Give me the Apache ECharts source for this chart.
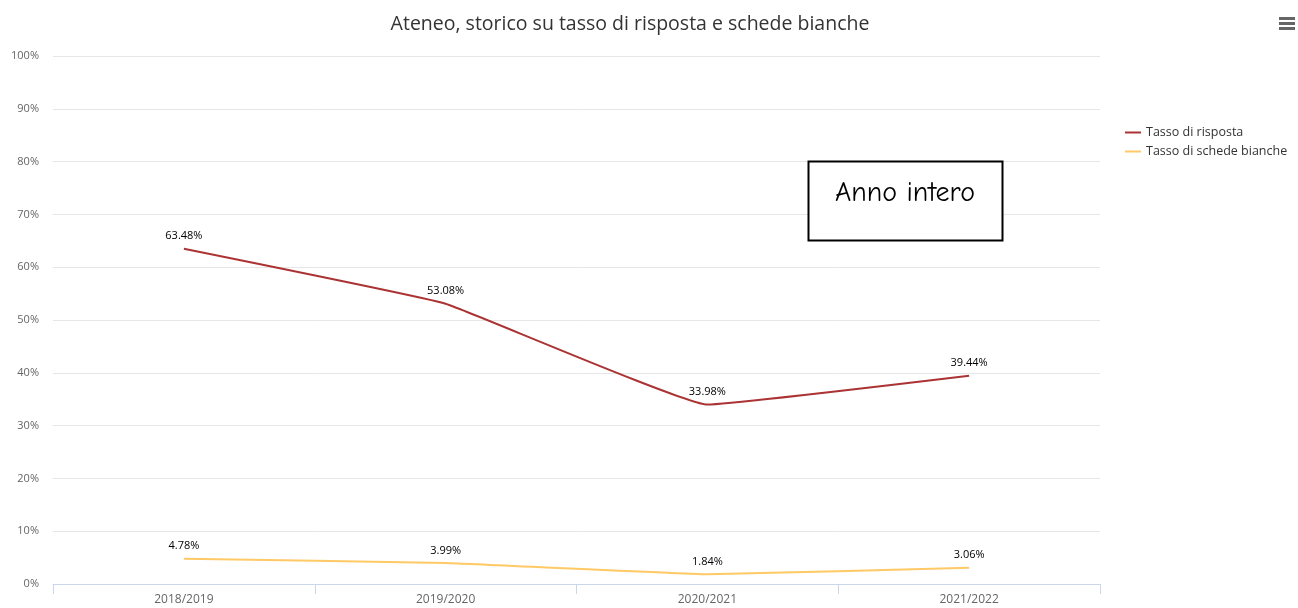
<!DOCTYPE html>
<html>
<head>
<meta charset="utf-8">
<script src="https://cdn.jsdelivr.net/npm/echarts@6/dist/echarts.min.js"></script>
<style>
  html, body { margin: 0; padding: 0; background: #fff; }
  #chart { width: 1298px; height: 608px; }
</style>
</head>
<body>
<div id="chart"></div>
<script>
const categories = ['2018/2019', '2019/2020', '2020/2021', '2021/2022'];
const tassoRisposta = [63.48, 53.08, 33.98, 39.44];
const tassoSchedeBianche = [4.78, 3.99, 1.84, 3.06];

const font = '"Open Sans", "DejaVu Sans", sans-serif';

const chart = echarts.init(document.getElementById('chart'));

const labelStyle = {
  show: true,
  position: 'top',
  distance: 7,
  fontSize: 11,
  fontFamily: font,
  color: '#000',
  textBorderColor: '#fff',
  textBorderWidth: 2,
  formatter: p => p.value.toFixed(2) + '%'
};

chart.setOption({
  animation: false,
  textStyle: { fontFamily: font },
  title: {
    text: 'Ateneo, storico su tasso di risposta e schede bianche',
    left: 625,
    textAlign: 'center',
    top: 9,
    textStyle: { fontSize: 19.5, fontWeight: 'normal', color: '#333', fontFamily: font }
  },
  legend: {
    orient: 'vertical',
    left: 1120,
    top: 121,
    itemWidth: 16,
    itemHeight: 2,
    itemGap: 6,
    icon: 'rect',
    textStyle: { fontSize: 12.5, color: '#333', fontFamily: font },
    data: ['Tasso di risposta', 'Tasso di schede bianche']
  },
  grid: { left: 53, right: 198, top: 56, bottom: 24 },
  xAxis: {
    type: 'category',
    data: categories,
    boundaryGap: true,
    axisLine: { lineStyle: { color: '#ccd6eb', width: 1 } },
    axisTick: { show: true, length: 10, lineStyle: { color: '#ccd6eb' } },
    axisLabel: { color: '#666', fontSize: 12, margin: 10, fontFamily: font }
  },
  yAxis: {
    type: 'value',
    min: 0,
    max: 100,
    interval: 10,
    axisLine: { show: false },
    axisTick: { show: false },
    splitLine: { lineStyle: { color: '#e6e6e6' } },
    axisLabel: { color: '#666', fontSize: 11, margin: 14, formatter: '{value}%', fontFamily: font }
  },
  series: [
    {
      name: 'Tasso di risposta',
      type: 'line',
      data: tassoRisposta,
      smooth: 0.08,
      showSymbol: true,
      symbol: 'circle',
      symbolSize: 0,
      lineStyle: { color: '#ab3333', width: 2 },
      itemStyle: { color: '#ab3333' },
      label: labelStyle
    },
    {
      name: 'Tasso di schede bianche',
      type: 'line',
      data: tassoSchedeBianche,
      smooth: 0.08,
      showSymbol: true,
      symbol: 'circle',
      symbolSize: 0,
      lineStyle: { color: '#ffc966', width: 2 },
      itemStyle: { color: '#ffc966' },
      label: labelStyle
    }
  ],
  graphic: [
    {
      type: 'rect',
      z: 100,
      shape: { x: 808.5, y: 161.5, width: 194, height: 79 },
      style: { fill: '#fff', stroke: '#000', lineWidth: 2 }
    },
    {
      type: 'text',
      z: 101,
      x: 905,
      y: 193,
      style: {
        text: 'Anno intero',
        fontSize: 28,
        fontFamily: '"Comic Sans MS", "Comic Neue", cursive',
        fill: '#000',
        align: 'center',
        verticalAlign: 'middle'
      }
    },
    { type: 'rect', shape: { x: 1279, y: 17, width: 16, height: 3 }, style: { fill: '#666' } },
    { type: 'rect', shape: { x: 1279, y: 22, width: 16, height: 3 }, style: { fill: '#666' } },
    { type: 'rect', shape: { x: 1279, y: 27, width: 16, height: 3 }, style: { fill: '#666' } }
  ]
});
</script>
</body>
</html>
